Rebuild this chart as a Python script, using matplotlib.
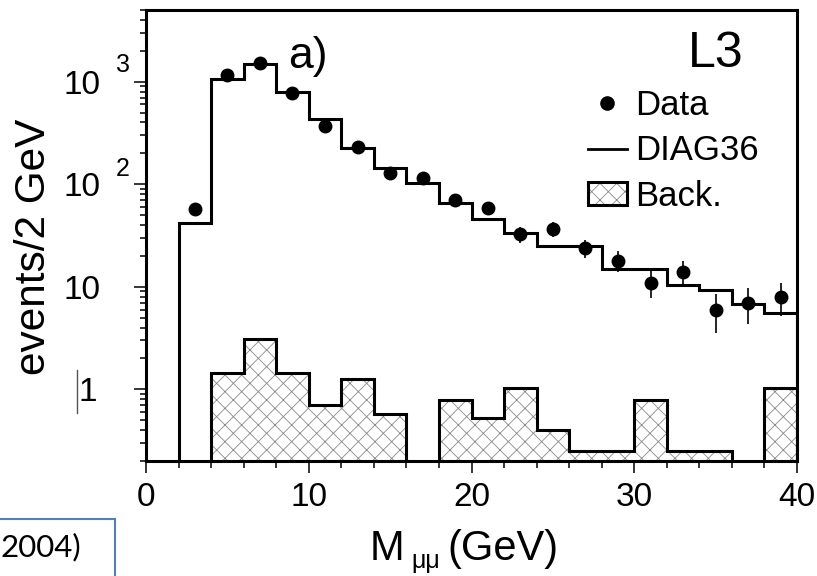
import numpy as np
import matplotlib
matplotlib.use('Agg')
import matplotlib.pyplot as plt
from matplotlib.lines import Line2D
from matplotlib.patches import Patch, Rectangle
from matplotlib.ticker import (FixedLocator, FixedFormatter, MultipleLocator,
                               LogLocator, NullFormatter)

plt.rcParams['font.family'] = ['Liberation Sans', 'DejaVu Sans']
plt.rcParams['hatch.linewidth'] = 0.6

# ---------------- data ----------------
bin_edges = [2, 4, 6, 8, 10, 12, 14, 16, 18, 20, 22, 24, 26, 28, 30, 32, 34, 36, 38, 40]
diag36 = [42, 1070, 1480, 785, 430, 227, 145, 102, 66, 46, 33.7, 25, 25, 15, 15, 10.5, 9.3, 6.8, 5.6]

data_x = [3, 5, 7, 9, 11, 13, 15, 17, 19, 21, 23, 25, 27, 29, 31, 33, 35, 37, 39]
data_y = [57, 1150, 1510, 780, 369, 231, 128, 116, 70, 58, 32.5, 36.5, 24, 18, 11, 14, 6, 7, 8]
data_err = [7.5, 34, 39, 28, 19, 15, 11.3, 10.8, 8.4, 7.6, 5.7, 6.0, 4.9, 4.2, 3.3, 3.7, 2.45, 2.65, 2.83]

back_edges = [4, 6, 8, 10, 12, 14, 16, 18, 20, 22, 24, 26, 28, 30, 32, 34, 36, 38, 40]
back = [1.44, 3.08, 1.44, 0.71, 1.25, 0.57, 0, 0.78, 0.53, 1.04, 0.40, 0.25, 0.25, 0.78, 0.25, 0.25, 0, 1.04]

x_ticks = [0, 10, 20, 30, 40]
y_ticks = [1, 10, 100, 1000]
y_ticklabels = ['1\u200a', '10', '10', '10']
legend_labels = ['Data', 'DIAG36', 'Back.']

# ---------------- figure ----------------
W, H = 817, 576
fig = plt.figure(figsize=(W / 100, H / 100), dpi=100)


def fx(x):
    return x / W


def fy(y):
    return 1 - y / H


ax = fig.add_axes([fx(146), fy(461), fx(797) - fx(146), fy(10) - fy(461)])
ax.set_yscale('log')
ax.set_xlim(0, 40)
ymin, ymax = 0.2, 5000
ax.set_ylim(ymin, ymax)

HATCH_C = '#8a8a8a'
LW = 2.2

# background: hatched fill + outline per contiguous run
be = np.array(back_edges, dtype=float)
bv = np.array(back, dtype=float)
mask = bv > 0
ax.bar(be[:-1][mask], bv[mask] - ymin, width=np.diff(be)[mask], bottom=ymin,
       align='edge', facecolor='none', edgecolor=HATCH_C, linewidth=0,
       hatch='xx', zorder=1)
n = len(bv)
i = 0
while i < n:
    if bv[i] > 0:
        j = i
        while j < n and bv[j] > 0:
            j += 1
        ax.stairs(bv[i:j], be[i:j + 1], baseline=ymin, color='black',
                  linewidth=LW, zorder=2)
        i = j
    else:
        i += 1

# DIAG36 histogram
ax.stairs(diag36, bin_edges, baseline=ymin, color='black', linewidth=LW, zorder=3)

# data
ax.errorbar(data_x, data_y, yerr=data_err, fmt='o', color='black',
            markersize=9, elinewidth=1.2, capsize=0, zorder=4)

# spines / ticks
for s in ax.spines.values():
    s.set_linewidth(LW)

ax.xaxis.set_major_locator(FixedLocator(x_ticks))
ax.xaxis.set_minor_locator(MultipleLocator(2))
ax.tick_params(axis='x', which='major', length=8.6, width=1.1, pad=6.5,
               labelsize=24, direction='out')
ax.tick_params(axis='x', which='minor', length=5, width=1.1, direction='out')

ax.yaxis.set_major_locator(FixedLocator(y_ticks))
ax.yaxis.set_major_formatter(FixedFormatter(y_ticklabels))
ax.yaxis.set_minor_locator(LogLocator(base=10, subs=np.arange(2, 10), numticks=50))
ax.yaxis.set_minor_formatter(NullFormatter())
ax.tick_params(axis='y', which='major', length=8.6, width=1.1, pad=24.5,
               labelsize=24, direction='out')
ax.tick_params(axis='y', which='minor', length=4.5, width=1.1, direction='out')

# superscript exponents
for val, exp, dy in [(1000, '3', 17), (100, '2', 15)]:
    ax.annotate(exp, xy=(0, val), xycoords=('axes fraction', 'data'),
                xytext=(116 - 146, dy), textcoords='offset pixels',
                fontsize=18, ha='left', va='center')

# odd bar next to "1"
fig.add_artist(Line2D([fx(77), fx(77)], [fy(370), fy(413)],
                      transform=fig.transFigure, color='#555555', lw=1))

# axis labels
fig.text(fx(45), fy(247), 'events/2 GeV', rotation=90, rotation_mode='anchor',
         ha='center', va='baseline', fontsize=30.5)
fig.text(fx(370), fy(560), 'M', ha='left', va='baseline', fontsize=30)
fig.text(fx(411), fy(568), 'μμ', ha='left', va='baseline', fontsize=18)
fig.text(fx(447.5), fy(560), '(GeV)', ha='left', va='baseline', fontsize=30)

# in-plot labels
fig.text(fx(288), fy(68), 'a)', ha='left', va='baseline', fontsize=32)
fig.text(fx(744), fy(67), 'L3', ha='right', va='baseline', fontsize=36)

# legend
handles = [
    Line2D([], [], marker='o', ls='none', color='black', markersize=9.5),
    Line2D([], [], color='black', lw=2),
    (Patch(facecolor='white', edgecolor=HATCH_C, hatch='xx', linewidth=0),
     Patch(facecolor='none', edgecolor='black', linewidth=LW)),
]
ax.legend(handles, legend_labels, loc='upper left',
          bbox_to_anchor=(fx(588), fy(89)), bbox_transform=fig.transFigure,
          frameon=False, fontsize=25, handlelength=1.12, handletextpad=0.24,
          labelspacing=0.36, borderpad=0, borderaxespad=0, handleheight=0.64)

# cropped reference box at lower-left
fig.add_artist(Rectangle((fx(-5), fy(590)), fx(120), fy(519) - fy(590),
                         transform=fig.transFigure, facecolor='none',
                         edgecolor='#4f81bd', linewidth=1.5))
fig.text(fx(81), fy(556), '2004)', ha='right', va='baseline', fontsize=22.5,
         family=['Lato', 'DejaVu Sans'])

fig.savefig('out.png', dpi=100)
